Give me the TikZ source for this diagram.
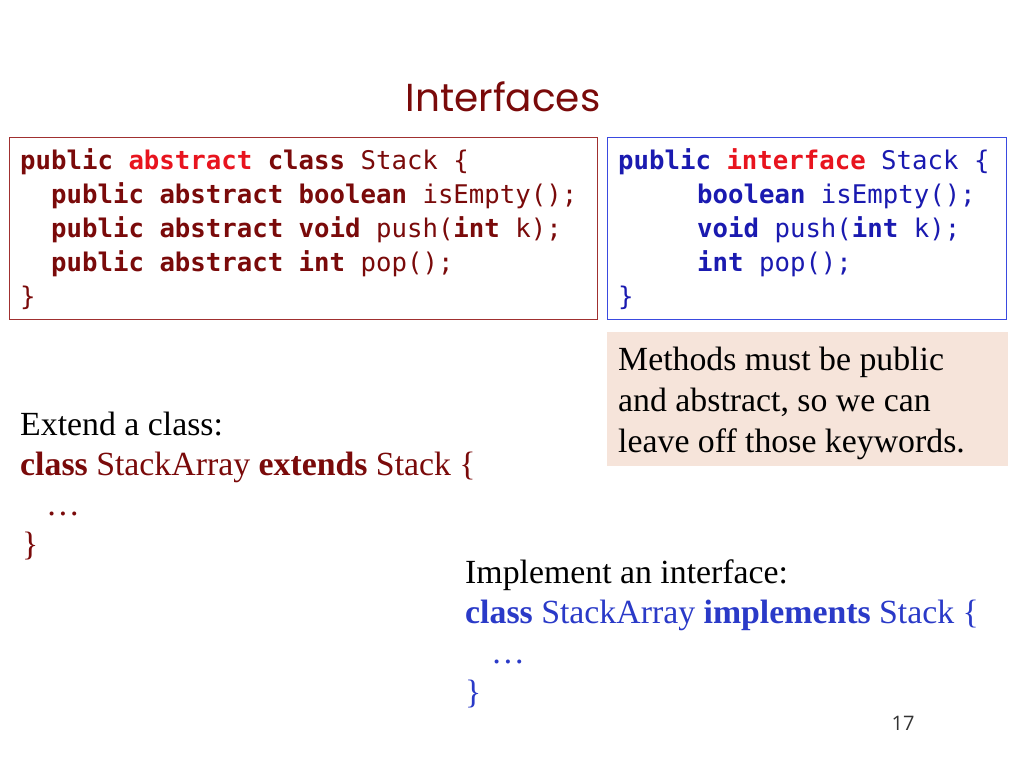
\documentclass[tikz,border=0pt]{standalone}
\usepackage{fontspec}
\setmainfont{Liberation Serif}
\newfontfamily\codef{DejaVu Sans Mono}
\newfontfamily\titlef{Poppins}
\newfontfamily\numf{Open Sans}
\definecolor{dred}{HTML}{7A0A0A}
\definecolor{bred}{HTML}{E8141E}
\definecolor{dblue}{HTML}{1A1AB0}
\definecolor{tblue}{HTML}{2A3AC8}
\definecolor{peach}{HTML}{F6E4DA}
\definecolor{boxred}{HTML}{A03030}
\definecolor{boxblue}{HTML}{3A4AE0}
\begin{document}
\begin{tikzpicture}[x=1pt,y=-1pt,
  code/.style={anchor=base west,inner sep=0pt,font=\codef\fontsize{25.7}{30}\selectfont},
  txt/.style={anchor=base west,inner sep=0pt,font=\fontsize{33.8}{40}\selectfont}]
\useasboundingbox (0,0) rectangle (1024,768);
\fill[white] (0,0) rectangle (1024,768);
\node[inner sep=0pt,anchor=base,text=dred,font=\titlef\fontsize{39}{44}\selectfont] (title) at (503,111) {Interfaces};
\draw[boxred,line width=1pt] (9,137) rectangle (597,319);
\draw[boxblue,line width=1pt] (607,137) rectangle (1006,319);
\fill[peach] (607,332) rectangle (1008,466);
\begin{scope}[text=dred]
\node[code] (l1) at (20,169) {\textbf{public} \textcolor{bred}{\textbf{abstract}} \textbf{class} Stack \{};
\node[code] (l2) at (51,203) {\textbf{public abstract boolean} isEmpty();};
\node[code] (l3) at (51,237) {\textbf{public abstract void} push(\textbf{int} k);};
\node[code] (l4) at (51,271) {\textbf{public abstract int} pop();};
\node[code] (l5) at (20,305) {\}};
\end{scope}
\begin{scope}[text=dblue]
\node[code] (r1) at (618,169) {\textbf{public} \textcolor{bred}{\textbf{interface}} Stack \{};
\node[code] (r2) at (697,203) {\textbf{boolean} isEmpty();};
\node[code] (r3) at (697,237) {\textbf{void} push(\textbf{int} k);};
\node[code] (r4) at (697,271) {\textbf{int} pop();};
\node[code] (r5) at (618,305) {\}};
\end{scope}
\node[txt] (n1) at (618,370) {Methods must be public};
\node[txt] (n2) at (618,411) {and abstract, so we can};
\node[txt] (n3) at (618,452) {leave off those keywords.};
\node[txt] (e1) at (20,435) {Extend a class:};
\node[txt,text=dred] (e2) at (20,475) {\textbf{class} StackArray \textbf{extends} Stack \{};
\node[txt,text=dred] (e3) at (46,515) {\dots};
\node[txt,text=dred] (e4) at (22,555) {\}};
\node[txt] (i1) at (465,583) {Implement an interface:};
\node[txt,text=tblue] (i2) at (465,623) {\textbf{class} StackArray \textbf{implements} Stack \{};
\node[txt,text=tblue] (i3) at (491,663) {\dots};
\node[txt,text=tblue] (i4) at (465,703) {\}};
\node[inner sep=0pt,anchor=base,font=\numf\fontsize{20}{24}\selectfont,text=black!80] (pg) at (903,730) {17};
\end{tikzpicture}
\end{document}
